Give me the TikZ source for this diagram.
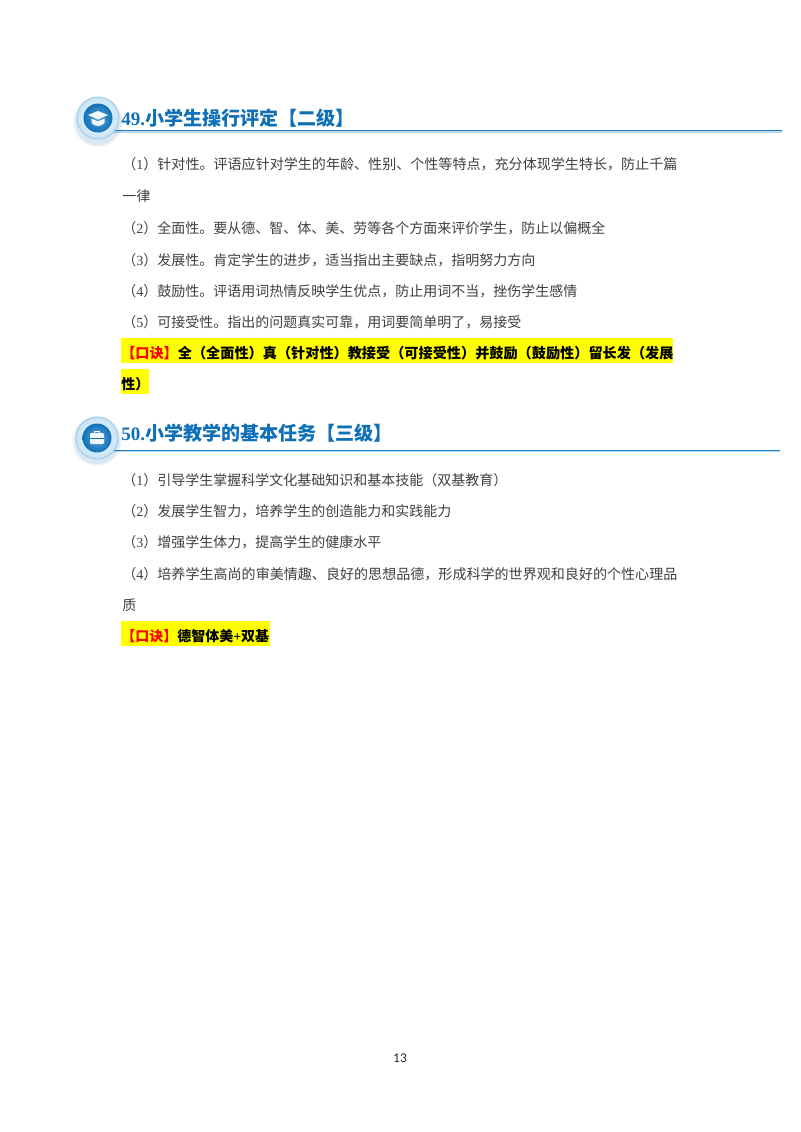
\documentclass[tikz,border=0pt]{standalone}
\usepackage{fontspec}
\setmainfont{Noto Sans CJK SC}
\newfontfamily\lat{Liberation Serif}
\newfontfamily\pagefont{Carlito}
\definecolor{headblue}{HTML}{0F70B7}
\definecolor{bodygrey}{HTML}{404040}
\definecolor{ruleblue}{HTML}{1F7FC8}
\definecolor{ringblue}{HTML}{C6E3F4}
\definecolor{mark}{HTML}{FFFF00}
\tikzset{
  x=0.75pt,y=-0.75pt,
  bodytext/.style={anchor=base west,inner sep=0pt,text=bodygrey,font=\fontsize{10.5pt}{12pt}\selectfont},
  widetext/.style={bodytext,font=\fontsize{10.54pt}{12pt}\selectfont},
  headtext/.style={anchor=base west,inner sep=0pt,text=headblue,font=\fontsize{14.3pt}{16pt}\selectfont\bfseries},
  keytext/.style={anchor=base west,inner sep=0pt,text=black,font=\fontsize{10.5pt}{12pt}\selectfont\bfseries},
  widekey/.style={keytext,font=\fontsize{10.62pt}{12pt}\selectfont\bfseries},
  marker/.style={fill=mark,draw=none},
  iconring/.style={draw=ringblue!80!headblue,line width=0.7pt,inner color=white,outer color=ringblue},
  icondisc/.style={inner color=ruleblue!70!white,outer color=headblue,draw=none},
  iconglyph/.style={fill=white,draw=none,opacity=.92},
}
\newcommand{\rd}{\textcolor{red}}
\begin{document}
\begin{tikzpicture}
\useasboundingbox (0,0) rectangle (800,1132);
\fill[white] (0,0) rectangle (800,1132);
% rules
\fill[ruleblue!30] (112,131.4) rectangle (782,132.6);
\fill[ruleblue] (112,130) rectangle (782,131.4);
\fill[ruleblue!30] (112,451) rectangle (780,452.2);
\fill[ruleblue] (112,449.6) rectangle (780,451);
% icon 1
\foreach \r/\o in {25/.04,24/.05,23/.07}{\fill[headblue,opacity=\o] (98,122) circle[radius=\r*0.75pt];}
\shade[iconring] (98,118) circle[radius=21*0.75pt];
\shade[icondisc] (98,118) circle[radius=14.5*0.75pt];
\fill[iconglyph] (88,115) -- (98,111) -- (108,115) -- (98,119.5) -- cycle;
\fill[iconglyph] (91.5,118.5) -- (98,121.5) -- (104.5,118.5) -- (104.5,123) .. controls (101,127) and (95,127) .. (91.5,123) -- cycle;
% icon 2
\foreach \r/\o in {25/.04,24/.05,23/.07}{\fill[headblue,opacity=\o] (97,441) circle[radius=\r*0.75pt];}
\shade[iconring] (97,438) circle[radius=21*0.75pt];
\shade[icondisc] (97,438) circle[radius=14.5*0.75pt];
\fill[iconglyph,rounded corners=0.8pt] (90,433) rectangle (104,444);
\draw[white,line width=0.7pt] (94.5,433) -- (94.5,431) -- (99.5,431) -- (99.5,433);
\draw[headblue,line width=0.5pt] (90,438) -- (104,438);
% highlights
\fill[marker] (121,338) rectangle (673,363);
\fill[marker] (121,369) rectangle (149,394);
\fill[marker] (121,621) rectangle (270,646);
% headings
\node[headtext] (h49) at (121,125) {{\lat\bfseries 49.}小学生操行评定【二级】};
\node[headtext] (h50) at (121,440) {{\lat\bfseries 50.}小学教学的基本任务【三级】};
% section 49
\node[widetext] (a1) at (122,169) {（{\lat 1}）针对性。评语应针对学生的年龄、性别、个性等特点，充分体现学生特长，防止千篇};
\node[bodytext] (a1b) at (122,201) {一律};
\node[bodytext] (a2) at (122,233) {（{\lat 2}）全面性。要从德、智、体、美、劳等各个方面来评价学生，防止以偏概全};
\node[bodytext] (a3) at (122,265) {（{\lat 3}）发展性。肯定学生的进步，适当指出主要缺点，指明努力方向};
\node[bodytext] (a4) at (122,296) {（{\lat 4}）鼓励性。评语用词热情反映学生优点，防止用词不当，挫伤学生感情};
\node[bodytext] (a5) at (122,327) {（{\lat 5}）可接受性。指出的问题真实可靠，用词要简单明了，易接受};
\node[widekey] (ak) at (121,358) {\rd{【口诀】}全（全面性）真（针对性）教接受（可接受性）并鼓励（鼓励性）留长发（发展};
\node[keytext] (akb) at (121,389) {性）};
% section 50
\node[bodytext] (b1) at (122,485) {（{\lat 1}）引导学生掌握科学文化基础知识和基本技能（双基教育）};
\node[bodytext] (b2) at (122,516) {（{\lat 2}）发展学生智力，培养学生的创造能力和实践能力};
\node[bodytext] (b3) at (122,547) {（{\lat 3}）增强学生体力，提高学生的健康水平};
\node[widetext] (b4) at (122,579) {（{\lat 4}）培养学生高尚的审美情趣、良好的思想品德，形成科学的世界观和良好的个性心理品};
\node[bodytext] (b4b) at (122,610) {质};
\node[keytext] (bk) at (121,641) {\rd{【口诀】}德智体美{\lat\bfseries +}双基};
% page number
\node[inner sep=0pt,text=black!85,font=\pagefont\fontsize{10pt}{12pt}\selectfont] (pg) at (400,1058) {13};
\end{tikzpicture}
\end{document}
